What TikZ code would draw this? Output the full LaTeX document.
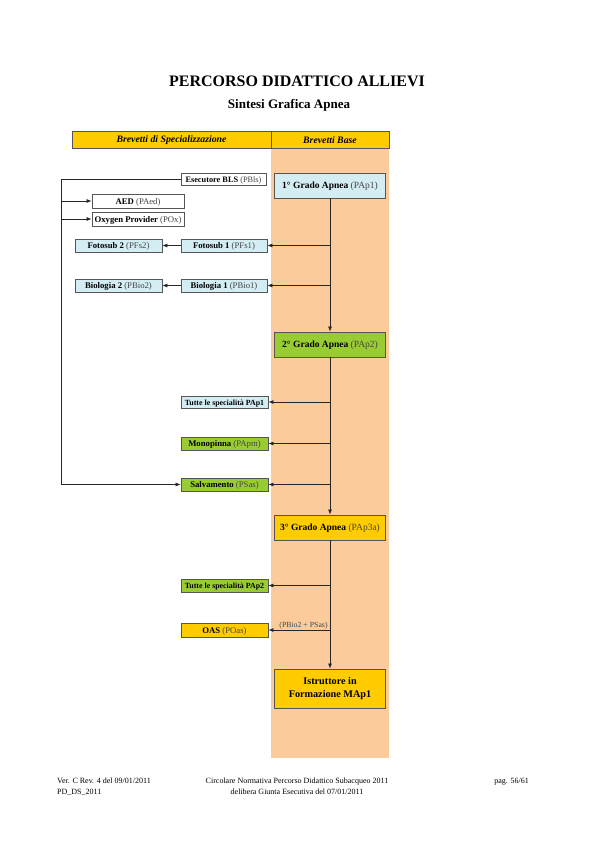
\documentclass[tikz,border=0pt]{standalone}
\usepackage{fontspec}
\setmainfont{Liberation Serif}
\usetikzlibrary{arrows.meta}
\definecolor{gold}{HTML}{FFCC00}
\definecolor{peach}{HTML}{FBCB9C}
\definecolor{lblue}{HTML}{D3EDF3}
\definecolor{lgreen}{HTML}{99CC33}
\definecolor{boxline}{HTML}{555555}
\definecolor{codegray}{HTML}{444444}
\newcommand{\fs}[1]{\fontsize{#1}{#1}\selectfont}
\newcommand{\code}[1]{{\color{codegray}#1}}
\begin{document}
\begin{tikzpicture}[x=1pt,y=-1pt,
  box/.style={draw=boxline, line width=0.8pt, inner sep=0pt, minimum height=13pt, font=\fs{8.7}, text=black, anchor=center, text height=0.72em, text depth=0.1em},
  wbox/.style={box, fill=white},
  bbox/.style={box, fill=lblue},
  gbox/.style={box, fill=lgreen},
  ybox/.style={box, fill=gold},
  bigbox/.style={box, minimum width=111pt, minimum height=25pt, font=\fs{9.5}},
  arr/.style={-{Latex[length=5pt,width=4pt]}, line width=0.7pt, draw=black!85},
  hdr/.style={font=\fs{9.8}\bfseries\itshape, inner sep=0pt},
  foot/.style={font=\fontsize{8}{11}\selectfont, inner sep=0pt, align=left}
]
\useasboundingbox (0,0) rectangle (595,842);
\fill[white] (0,0) rectangle (595,842);

% titles
\node[font=\fs{16}\bfseries, inner sep=0pt] (title) at (297,81) {PERCORSO DIDATTICO ALLIEVI};
\node[font=\fs{13}\bfseries, inner sep=0pt] (subtitle) at (289,105) {Sintesi Grafica Apnea};

% column and header
\fill[peach] (271,148) rectangle (389,758);
\draw[fill=gold, draw=boxline, line width=0.8pt] (72,131) rectangle (389,148);
\draw[boxline, line width=0.8pt] (271,131) -- (271,148);
\node[hdr] (hleft) at (171.5,140) {Brevetti di Specializzazione};
\node[hdr] (hright) at (330,140) {Brevetti Base};

% main column
\node[bigbox, fill=lblue] (g1) at (330,185.5) {\textbf{1° Grado Apnea} \code{(PAp1)}};
\node[bigbox, fill=lgreen] (g2) at (330,344.5) {\textbf{2° Grado Apnea} \code{(PAp2)}};
\node[bigbox, fill=gold] (g3) at (330,527.5) {\textbf{3° Grado Apnea} \code{(PAp3a)}};
\node[draw=boxline, line width=0.8pt, fill=gold, minimum width=111pt, minimum height=39pt, inner sep=0pt, font=\fontsize{10.2}{12}\selectfont\bfseries, align=center] (istr) at (330,688.5) {Istruttore in\\[1pt]Formazione MAp1};

% specialisation boxes
\node[wbox, minimum width=85pt, minimum height=12pt, font=\fs{8.3}] (esc) at (223.5,179) {\textbf{Esecutore BLS} \code{(PBls)}};
\node[wbox, minimum width=92pt, minimum height=14pt] (aed) at (138,201) {\textbf{AED} \code{(PAed)}};
\node[wbox, minimum width=92pt, minimum height=14pt] (oxy) at (138,219) {\textbf{Oxygen Provider} \code{(POx)}};
\node[bbox, minimum width=87pt] (fs2) at (118.5,245.5) {\textbf{Fotosub 2} \code{(PFs2)}};
\node[bbox, minimum width=86pt] (fs1) at (224,245.5) {\textbf{Fotosub 1} \code{(PFs1)}};
\node[bbox, minimum width=87pt] (bio2) at (118.5,285.5) {\textbf{Biologia 2} \code{(PBio2)}};
\node[bbox, minimum width=86pt] (bio1) at (224,285.5) {\textbf{Biologia 1} \code{(PBio1)}};
\node[bbox, minimum width=87pt, minimum height=12pt, font=\fs{7.9}\bfseries] (tut1) at (224.5,402) {Tutte le specialità PAp1};
\node[gbox, minimum width=87pt] (mono) at (224.5,443.5) {\textbf{Monopinna} \code{(PApm)}};
\node[gbox, minimum width=87pt] (salv) at (224.5,484.5) {\textbf{Salvamento} \code{(PSas)}};
\node[gbox, minimum width=87pt, font=\fs{7.9}\bfseries] (tut2) at (224.5,585.5) {Tutte le specialità PAp2};
\node[ybox, minimum width=87pt, minimum height=14pt] (oas) at (224.5,630) {\textbf{OAS} \code{(POas)}};

% main vertical connectors
\draw[arr] (g1.south) -- (g2.north);
\draw[arr] (g2.south) -- (g3.north);
\draw[arr] (g3.south) -- (istr.north);

% branches
\draw[arr] (g1.south |- fs1.east) -- (fs1.east);
\draw[arr] (g1.south |- bio1.east) -- (bio1.east);
\draw[arr] (fs1.west) -- (fs2.east);
\draw[arr] (bio1.west) -- (bio2.east);
\draw[arr] (g2.south |- tut1.east) -- (tut1.east);
\draw[arr] (g2.south |- mono.east) -- (mono.east);
\draw[arr] (g2.south |- salv.east) -- (salv.east);
\draw[arr] (g3.south |- tut2.east) -- (tut2.east);
\draw[arr] (g3.south |- oas.east) -- node[pos=0.43, above=0.8pt, inner sep=0pt, font=\fs{7.8}, text=codegray] {(PBio2 + PSas)} (oas.east);

% left loop
\coordinate (L) at (61,179);
\draw[arr] (esc.west) -- (esc.west -| L) -- (L |- salv.west) -- (salv.west);
\draw[arr] (L |- aed.west) -- (aed.west);
\draw[arr] (L |- oxy.west) -- (oxy.west);

% footer
\node[foot, anchor=north west] (f1) at (57,778) {Ver. C Rev. 4 del 09/01/2011\\PD\_DS\_2011};
\node[foot, anchor=north, align=center] (f2) at (297,778) {Circolare Normativa Percorso Didattico Subacqueo 2011\\delibera Giunta Esecutiva del 07/01/2011};
\node[foot, anchor=north east] (f3) at (529,778) {pag. 56/61};
\end{tikzpicture}
\end{document}
